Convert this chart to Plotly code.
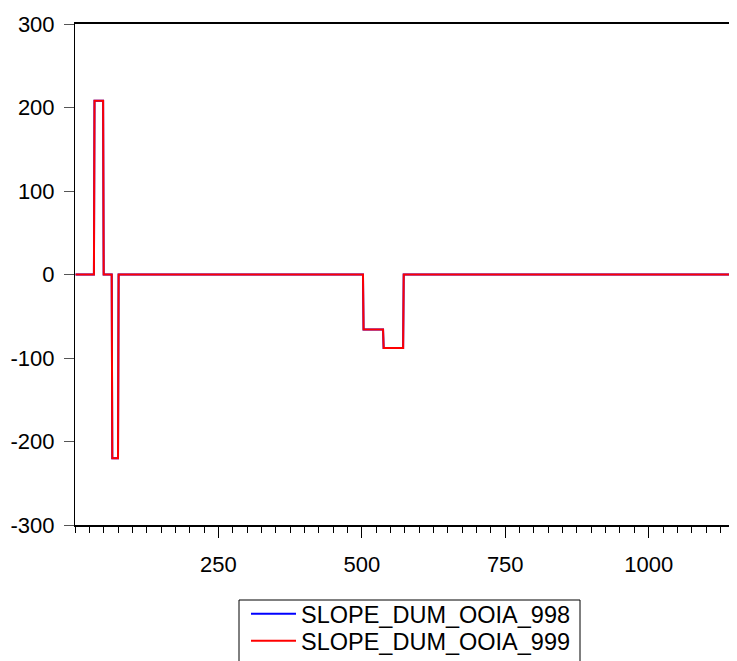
import plotly.graph_objects as go

seg_start = [1, 34, 50, 65, 76, 503, 538, 573]
seg_end = [33, 49, 64, 75, 502, 537, 572, 1160]
seg_value = [0, 208, 0, -220, 0, -66, -88, 0]

series_names = ["SLOPE_DUM_OOIA_998", "SLOPE_DUM_OOIA_999"]
series_colors = ["#0000ff", "#ff0000"]

x_ticks = [250, 500, 750, 1000]
y_ticks = [-300, -200, -100, 0, 100, 200, 300]

obs = []
vals = []
for s, e, v in zip(seg_start, seg_end, seg_value):
    for i in range(s, e + 1):
        obs.append(i)
        vals.append(v)

# page body has an 8px margin, so the figure is sized to fit the window
W, H = 729, 653
L, R, T, B = 67, 0, 16, 136
pw, ph = W - L - R, H - T - B

legend_ids = ["legend", "legend2"]
legend_centers_px = [606, 633]

fig = go.Figure()
for name, color, lid in zip(series_names, series_colors, legend_ids):
    fig.add_trace(go.Scatter(x=obs, y=vals, mode="lines", name=name,
                             line=dict(color=color, width=2), legend=lid))

font_family = "Liberation Sans, Arial, sans-serif"
legend_common = dict(
    xref="container", yref="container",
    x=238 / W, xanchor="left", yanchor="middle",
    borderwidth=0, bgcolor="rgba(0,0,0,0)",
    font=dict(size=23.5, family=font_family, color="black"),
    itemwidth=45,
)
fig.update_layout(
    width=W, height=H,
    margin=dict(l=L, r=R, t=T, b=B, autoexpand=False),
    paper_bgcolor="white", plot_bgcolor="white",
    font=dict(family=font_family, size=22, color="black"),
    showlegend=True,
    legend=dict(y=1 - legend_centers_px[0] / H, **legend_common),
    legend2=dict(y=1 - legend_centers_px[1] / H, **legend_common),
)
# legend frame (bottom edge lies below the visible page, as in the reference)
fig.add_shape(type="rect", xref="paper", yref="paper",
              x0=(231 - L) / pw, x1=(572 - L) / pw,
              y0=(H - B - 592) / ph, y1=(H - B - 700) / ph,
              line=dict(color="black", width=1), fillcolor="rgba(0,0,0,0)",
              layer="below")

fig.update_xaxes(
    range=[0, 1154], showgrid=False, zeroline=False, automargin=False,
    showline=True, linecolor="black", linewidth=2, mirror=True,
    tickmode="array", tickvals=x_ticks, ticktext=[str(t) for t in x_ticks],
    ticks="outside", ticklen=11, tickcolor="black", tickwidth=1,
    ticklabelstandoff=8,
    minor=dict(dtick=25, tick0=0, ticks="outside", ticklen=6, tickcolor="black", tickwidth=1, showgrid=False),
    tickfont=dict(size=22),
)
fig.update_yaxes(
    range=[-300, 300], showgrid=False, zeroline=False, automargin=False,
    showline=True, linecolor="black", linewidth=1,
    tickmode="array", tickvals=y_ticks, ticktext=[str(t) for t in y_ticks],
    ticks="outside", ticklen=10, tickcolor="#555", tickwidth=1,
    ticklabelstandoff=5,
    tickfont=dict(size=22),
)

fig.write_html("out.html")
